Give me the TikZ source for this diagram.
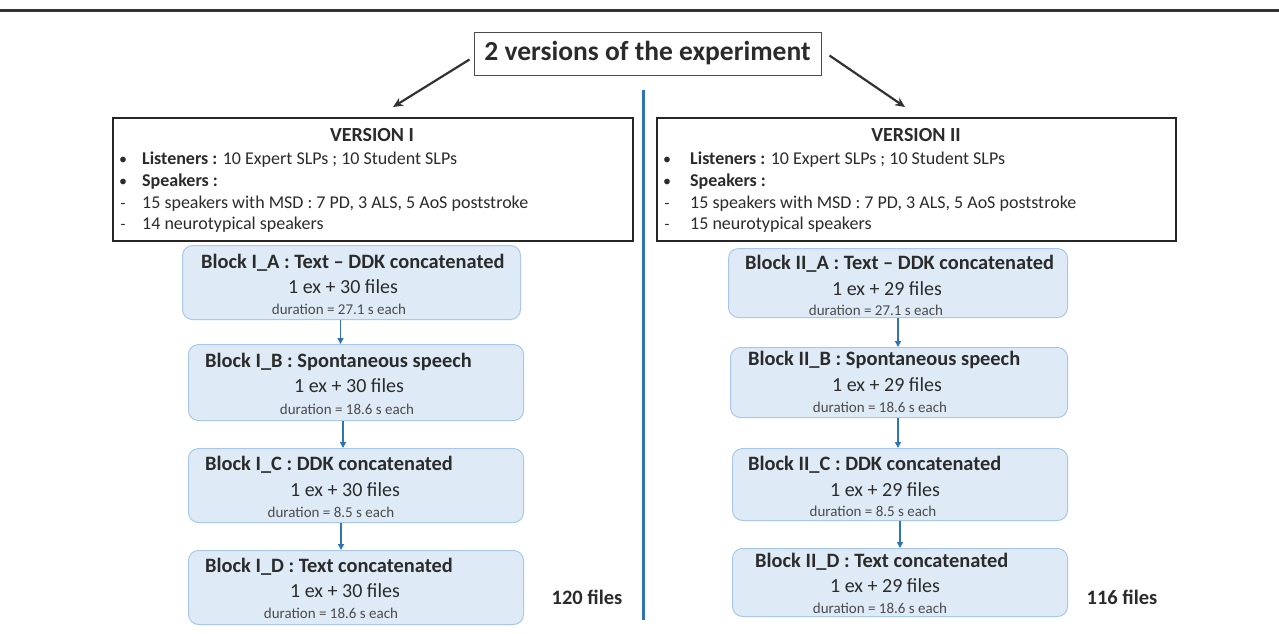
\documentclass[tikz,border=0pt]{standalone}
\usepackage{fontspec}
\setmainfont{Carlito}
\usetikzlibrary{arrows.meta}
\definecolor{blkfill}{HTML}{DEEBF7}
\definecolor{blkdraw}{HTML}{A9C8E8}
\definecolor{arrblue}{HTML}{2F75B5}
\definecolor{txt}{HTML}{2B2B2B}
\begin{document}
\begin{tikzpicture}[x=1pt,y=-1pt,
  blk/.style={draw=blkdraw,fill=blkfill,line width=1pt,rounded corners=10pt,minimum width=338pt,minimum height=72pt,anchor=north west,inner sep=0pt},
  vbox/.style={draw=black!85,line width=2.4pt,anchor=north west,inner sep=0pt},
  btitle/.style={font=\fontsize{20.4}{24}\selectfont\bfseries,text=txt,anchor=west,inner sep=0pt},
  bfiles/.style={font=\fontsize{20}{24}\selectfont,text=txt,inner sep=0pt},
  bdur/.style={font=\fontsize{15}{18}\selectfont,text=txt!85,inner sep=0pt},
  vhead/.style={font=\fontsize{20}{24}\selectfont\bfseries,text=txt,inner sep=0pt},
  vline/.style={font=\fontsize{18}{21}\selectfont,text=txt,anchor=base west,inner sep=0pt},
  vbul/.style={font=\fontsize{16}{21}\selectfont,text=txt,anchor=base,inner sep=0pt},
  blarrow/.style={draw=arrblue,line width=1.8pt,-{Triangle[length=6pt,width=6pt]}},
  tarrow/.style={draw=black!80,line width=2.2pt,-{Stealth[length=10pt,width=9pt]}},
  total/.style={font=\fontsize{20.5}{24}\selectfont\bfseries,text=txt,inner sep=0pt}
]
\useasboundingbox (0,0) rectangle (1279,633);
\fill[white] (0,0) rectangle (1279,633);
% top rule
\draw[black!80,line width=3pt] (0,10) -- (1279,10);
% title
\node[draw=black!70,line width=1pt,minimum width=347pt,minimum height=43pt,inner sep=0pt,font=\fontsize{27.5}{32}\selectfont\bfseries,text=txt] (T) at (647.5,53.5) {2 versions of the experiment};
\coordinate (L1) at (393,107);
\coordinate (R1) at (905,107);
\draw[tarrow] ([xshift=-4pt,yshift=-6pt]T.west) -- (L1);
\draw[tarrow] ([xshift=8pt,yshift=-2pt]T.east) -- (R1);
% divider
\coordinate (D1) at (643,90);
\coordinate (D2) at (643,620);
\draw[arrblue,line width=3pt] (D1) -- (D2);

% version boxes
\node[vbox,minimum width=520pt,minimum height=123pt] (V1) at (112,117) {};
\node[vbox,minimum width=519pt,minimum height=123pt] (V2) at (656,117) {};

\node[vhead] (V1h) at (372,135) {VERSION I};
\node[vbul] (V1b1) at (123,164) {•};
\node[vline] (V1l1) at (142,164) {\textbf{Listeners :} 10 Expert SLPs ; 10 Student SLPs};
\node[vbul] (V1b2) at (123,186) {•};
\node[vline] (V1l2) at (142,186) {\textbf{Speakers :}};
\node[vbul] (V1b3) at (123,208) {-};
\node[vline] (V1l3) at (142,208) {15 speakers with MSD : 7 PD, 3 ALS, 5 AoS poststroke};
\node[vbul] (V1b4) at (123,229) {-};
\node[vline] (V1l4) at (142,229) {14 neurotypical speakers};

\node[vhead] (V2h) at (916,135) {VERSION II};
\node[vbul] (V2b1) at (667,164) {•};
\node[vline] (V2l1) at (690,164) {\textbf{Listeners :} 10 Expert SLPs ; 10 Student SLPs};
\node[vbul] (V2b2) at (667,186) {•};
\node[vline] (V2l2) at (690,186) {\textbf{Speakers :}};
\node[vbul] (V2b3) at (667,208) {-};
\node[vline] (V2l3) at (690,208) {15 speakers with MSD : 7 PD, 3 ALS, 5 AoS poststroke};
\node[vbul] (V2b4) at (667,229) {-};
\node[vline] (V2l4) at (690,229) {15 neurotypical speakers};

% left blocks
\node[blk,minimum width=338pt,minimum height=74pt] (IA) at (182,245) {};
\node[btitle] (IAt) at (201,263) {Block I\_A : Text – DDK concatenated};
\node[bfiles] (IAf) at (343,287) {1 ex + 30 files};
\node[bdur] (IAd) at (339,309) {duration = 27.1 s each};

\node[blk,minimum width=335pt,minimum height=76pt] (IB) at (188,344) {};
\node[btitle] (IBt) at (205,362) {Block I\_B : Spontaneous speech};
\node[bfiles] (IBf) at (349,386) {1 ex + 30 files};
\node[bdur] (IBd) at (347,409) {duration = 18.6 s each};

\node[blk,minimum width=335pt,minimum height=74pt] (IC) at (188,448) {};
\node[btitle] (ICt) at (205,465) {Block I\_C : DDK concatenated};
\node[bfiles] (ICf) at (345,490) {1 ex + 30 files};
\node[bdur] (ICd) at (331,512) {duration = 8.5 s each};

\node[blk,minimum width=335pt,minimum height=74pt] (ID) at (188,550) {};
\node[btitle] (IDt) at (205,567) {Block I\_D : Text concatenated};
\node[bfiles] (IDf) at (345,591) {1 ex + 30 files};
\node[bdur] (IDd) at (331,613) {duration = 18.6 s each};

\node[total] (Itot) at (587,597) {120 files};

\draw[blarrow] ([xshift=-11pt]IA.south) -- ([xshift=-11pt]IA.south |- IB.north);
\draw[blarrow] ([xshift=-13pt]IB.south) -- ([xshift=-13pt]IB.south |- IC.north);
\draw[blarrow] ([xshift=-15pt]IC.south) -- ([xshift=-15pt]IC.south |- ID.north);

% right blocks
\node[blk,minimum width=339pt,minimum height=69pt] (IIA) at (728,248) {};
\node[btitle] (IIAt) at (745,264) {Block II\_A : Text – DDK concatenated};
\node[bfiles] (IIAf) at (887,289) {1 ex + 29 files};
\node[bdur] (IIAd) at (876,310) {duration = 27.1 s each};

\node[blk,minimum width=337pt,minimum height=70pt] (IIB) at (730,347) {};
\node[btitle] (IIBt) at (748,360) {Block II\_B : Spontaneous speech};
\node[bfiles] (IIBf) at (887,385) {1 ex + 29 files};
\node[bdur] (IIBd) at (880,407) {duration = 18.6 s each};

\node[blk,minimum width=335pt,minimum height=72pt] (IIC) at (732,448) {};
\node[btitle] (IICt) at (748,465) {Block II\_C : DDK concatenated};
\node[bfiles] (IICf) at (885,490) {1 ex + 29 files};
\node[bdur] (IICd) at (873,511) {duration = 8.5 s each};

\node[blk,minimum width=335pt,minimum height=68pt] (IID) at (732,548) {};
\node[btitle] (IIDt) at (755,562) {Block II\_D : Text concatenated};
\node[bfiles] (IIDf) at (885,586) {1 ex + 29 files};
\node[bdur] (IIDd) at (880,608) {duration = 18.6 s each};

\node[total] (IItot) at (1122,597) {116 files};

\draw[blarrow] ([xshift=0pt]IIA.south) -- ([xshift=0pt]IIA.south |- IIB.north);
\draw[blarrow] ([xshift=-1pt]IIB.south) -- ([xshift=-1pt]IIB.south |- IIC.north);
\draw[blarrow] ([xshift=0pt]IIC.south) -- ([xshift=0pt]IIC.south |- IID.north);
\end{tikzpicture}
\end{document}
